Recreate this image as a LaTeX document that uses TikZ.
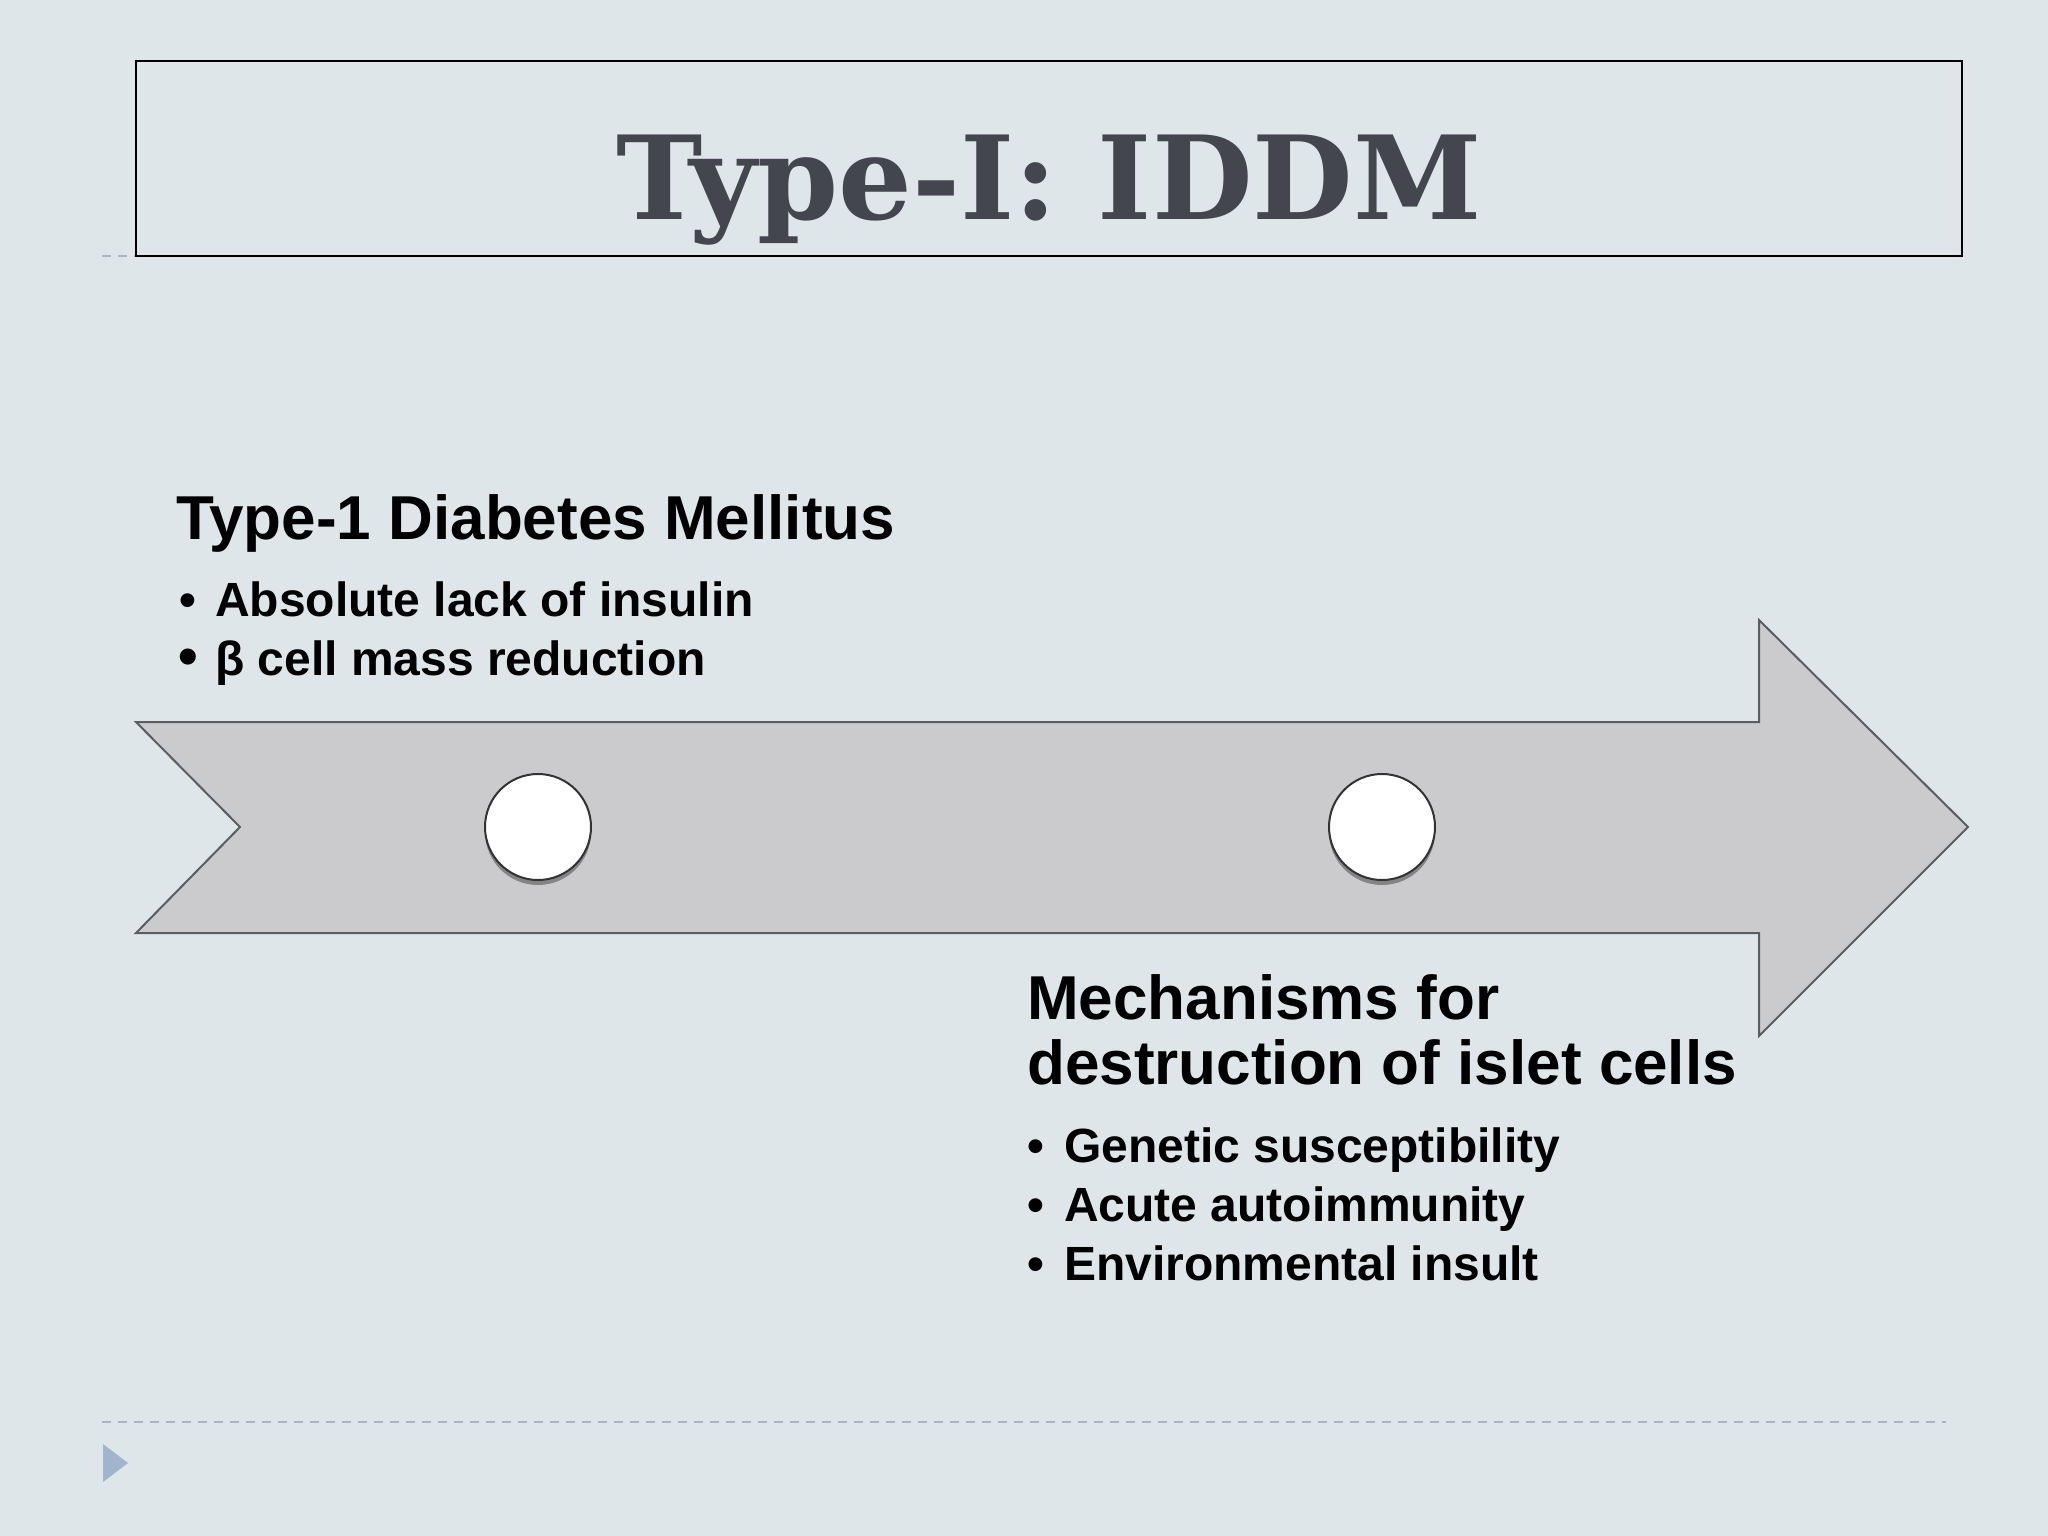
\documentclass[tikz,border=0pt]{standalone}
\usepackage{fontspec}
\setmainfont{Liberation Sans}
\newfontfamily\titlefont{DejaVu Serif}
\usetikzlibrary{shadows}
\definecolor{bg}{HTML}{DFE6EA}
\definecolor{titlegrey}{HTML}{43464F}
\definecolor{arrowfill}{HTML}{CBCBCD}
\definecolor{arrowline}{HTML}{5A5E62}
\definecolor{dashgrey}{HTML}{A9B5BF}
\definecolor{trifill}{HTML}{A0B4CC}
\tikzset{
  dashline/.style={draw=dashgrey, line width=2pt, dash pattern=on 9pt off 7pt},
  arrowshape/.style={fill=arrowfill, draw=arrowline, line width=2pt, line join=miter},
  circ/.style={circle, fill=white, draw=black!80, line width=2pt, minimum size=106pt, inner sep=0pt,
    drop shadow={shadow xshift=0pt, shadow yshift=-5pt, opacity=0.35, fill=black}},
  heading/.style={anchor=base west, inner sep=0pt, font=\bfseries\fontsize{62}{65}\selectfont, text=black},
  bullet/.style={anchor=base west, inner sep=0pt, font=\bfseries\fontsize{48}{59}\selectfont, text=black},
}
\begin{document}
\begin{tikzpicture}[x=1pt,y=-1pt]
\fill[bg] (0,0) rectangle (2048,1536);
\useasboundingbox (0,0) rectangle (2048,1536);

% title box
\draw[dashline] (102,256) -- (136,256);
\draw[black, line width=2pt] (136,61) rectangle (1962,256);
\node[anchor=base, inner sep=0pt, text=titlegrey, font=\titlefont\bfseries\fontsize{116}{116}\selectfont] (title) at (1049,219) {Type-I: IDDM};

% arrow
\draw[arrowshape] (136,722) -- (1759,722) -- (1759,620) -- (1968,827) -- (1759,1036) -- (1759,933) -- (136,933) -- (240,827) -- cycle;

\node[circ] (c1) at (538,827) {};
\node[circ] (c2) at (1382,827) {};

% upper text
\node[heading] (h1) at (176,539) {Type-1 Diabetes Mellitus};
\node[bullet] (b1) at (176,616) {\makebox[39pt][l]{\hspace{3pt}•}Absolute lack of insulin};
\node[bullet] (b2) at (176,675) {\makebox[39pt][l]{\hspace{2pt}\fontsize{56}{59}\selectfont•}β cell mass reduction};

% lower text
\node[heading] (h2a) at (1027,1019) {Mechanisms for};
\node[heading] (h2b) at (1027,1084) {destruction of islet cells};
\node[bullet] (m1) at (1027,1162) {\makebox[37pt][l]{\hspace{0pt}•}Genetic susceptibility};
\node[bullet] (m2) at (1027,1221) {\makebox[37pt][l]{\hspace{0pt}•}Acute autoimmunity};
\node[bullet] (m3) at (1027,1280) {\makebox[37pt][l]{\hspace{0pt}•}Environmental insult};

% footer
\draw[dashline] (102,1422) -- (1946,1422);
\fill[trifill] (103,1444) -- (128,1463) -- (103,1482) -- cycle;
\end{tikzpicture}
\end{document}
